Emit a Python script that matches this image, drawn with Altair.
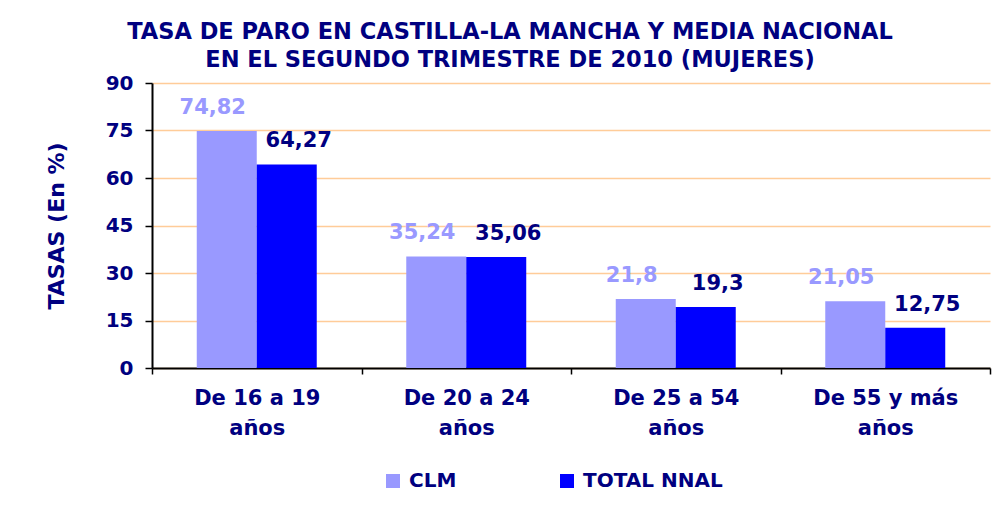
import altair as alt
import pandas as pd

categories = ["De 16 a 19 años", "De 20 a 24 años", "De 25 a 54 años", "De 55 y más años"]
series = ["CLM", "TOTAL NNAL"]
clm = [74.82, 35.24, 21.8, 21.05]
total = [64.27, 35.06, 19.3, 12.75]
clm_labels = ["74,82", "35,24", "21,8", "21,05"]
total_labels = ["64,27", "35,06", "19,3", "12,75"]
y_ticks = [0, 15, 30, 45, 60, 75, 90]

rows = []
for i, c in enumerate(categories):
    rows.append({"cat": c, "serie": series[0], "valor": clm[i], "etiqueta": clm_labels[i]})
    rows.append({"cat": c, "serie": series[1], "valor": total[i], "etiqueta": total_labels[i]})
df = pd.DataFrame(rows)

NAVY = "#000080"
FONT = "DejaVu Sans"

label_expr = (
    "isString(datum.value) ? "
    "[slice(datum.value, 0, lastindexof(datum.value, ' ')), "
    "slice(datum.value, lastindexof(datum.value, ' ') + 1)] : ''"
)

x_enc = alt.X(
    "cat:N",
    sort=categories,
    scale=alt.Scale(paddingInner=0, paddingOuter=0),
    axis=alt.Axis(
        title=None,
        labelAngle=0,
        labelExpr=label_expr,
        labelFont=FONT,
        labelFontWeight="bold",
        labelFontSize=21,
        labelColor=NAVY,
        labelLineHeight=30,
        labelPadding=13,
        tickBand="extent",
        tickColor="black",
        tickSize=6,
        tickWidth=1.5,
        domainColor="black",
        domainWidth=2,
        grid=False,
    ),
)
xoff_enc = alt.XOffset("serie:N", sort=series, scale=alt.Scale(paddingInner=0, paddingOuter=0.746))
y_enc = alt.Y(
    "valor:Q",
    scale=alt.Scale(domain=[0, 90], nice=False),
    axis=alt.Axis(
        title="TASAS (En %)",
        values=y_ticks,
        titleFont=FONT,
        titleFontWeight="bold",
        titleFontSize=22,
        titleColor=NAVY,
        titlePadding=37,
        labelFont=FONT,
        labelFontWeight="bold",
        labelFontSize=20,
        labelColor=NAVY,
        labelPadding=12,
        tickColor="black",
        tickSize=7,
        tickWidth=1.5,
        domainColor="black",
        domainWidth=2,
        grid=True,
        gridColor="#FFCC99",
        gridWidth=1.5,
    ),
)

bars = alt.Chart(df).mark_bar().encode(
    x=x_enc,
    xOffset=xoff_enc,
    y=y_enc,
    color=alt.Color(
        "serie:N",
        scale=alt.Scale(domain=series, range=["#9999FF", "#0000FF"]),
        legend=alt.Legend(
            title=None,
            orient="none",
            legendX=231,
            legendY=388,
            direction="horizontal",
            padding=0,
            symbolType="square",
            symbolSize=196,
            symbolStrokeWidth=0,
            labelFont=FONT,
            labelFontWeight="bold",
            labelFontSize=20,
            labelColor=NAVY,
            labelOffset=6,
            columnPadding=100,
        ),
    ),
)

lab_clm = alt.Chart(df).transform_filter(alt.datum.serie == "CLM").mark_text(
    font=FONT, fontWeight="bold", fontSize=21, color="#9999FF", dx=-14, dy=-17, baseline="alphabetic"
).encode(x=alt.X("cat:N", sort=categories), xOffset=alt.XOffset("serie:N", sort=series),
         y="valor:Q", text="etiqueta:N")

lab_tot = alt.Chart(df).transform_filter(alt.datum.serie == "TOTAL NNAL").mark_text(
    font=FONT, fontWeight="bold", fontSize=21, color=NAVY, dx=12, dy=-17, baseline="alphabetic"
).encode(x=alt.X("cat:N", sort=categories), xOffset=alt.XOffset("serie:N", sort=series),
         y="valor:Q", text="etiqueta:N")

chart = alt.layer(bars, lab_clm, lab_tot).properties(
    width=838,
    height=285,
    title=alt.TitleParams(
        text=["TASA DE PARO EN CASTILLA-LA MANCHA Y MEDIA NACIONAL", "EN EL SEGUNDO TRIMESTRE DE 2010 (MUJERES)"],
        font=FONT,
        fontWeight="bold",
        fontSize=22.5,
        color=NAVY,
        anchor="middle",
        dx=-61,
        lineHeight=28,
        offset=2,
    ),
    autosize=alt.AutoSizeParams(type="none"),
    padding={"left": 144, "top": 75, "right": 5, "bottom": 130},
).configure_view(stroke=None)

chart.save("out.html", embed_options={"renderer": "svg", "actions": False})
